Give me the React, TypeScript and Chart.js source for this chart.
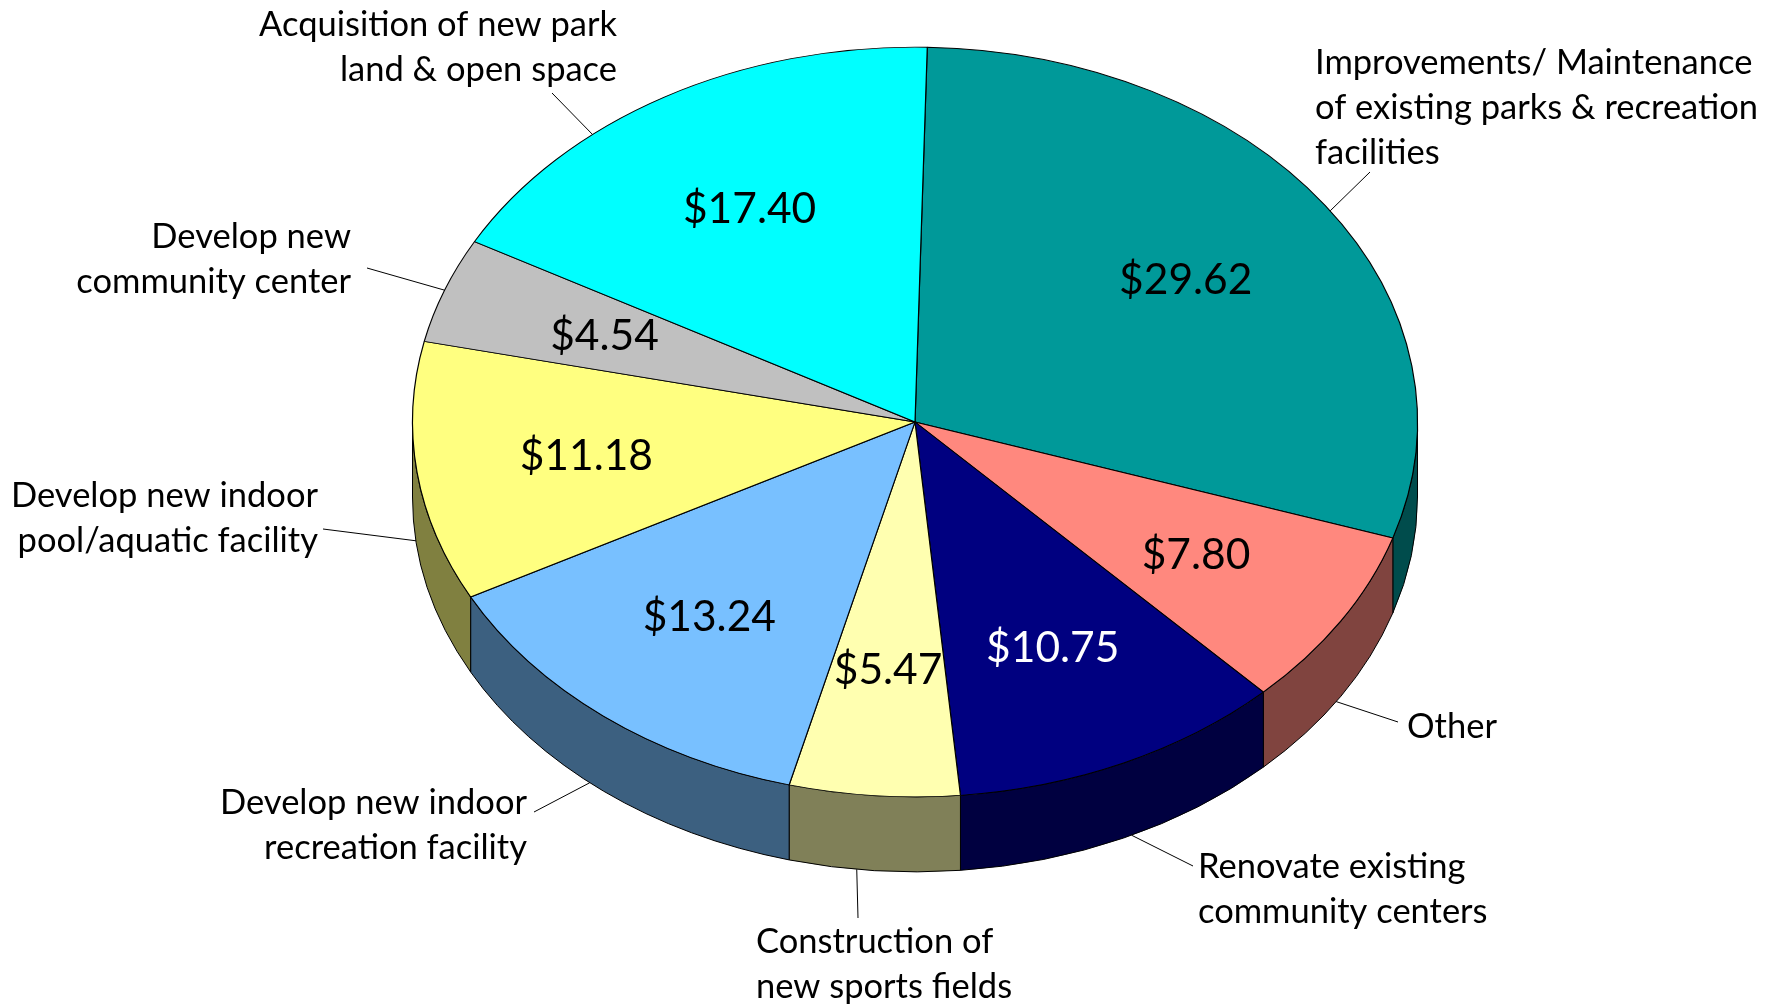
import React, { useEffect, useRef } from 'react';
import { Chart, registerables } from 'chart.js';

Chart.register(...registerables);

// ---------- data ----------
const CATEGORIES: string[][] = [
  ['Improvements/ Maintenance', 'of existing parks & recreation', 'facilities'],
  ['Other'],
  ['Renovate existing', 'community centers'],
  ['Construction of', 'new sports fields'],
  ['Develop new indoor', 'recreation facility'],
  ['Develop new indoor', 'pool/aquatic facility'],
  ['Develop new', 'community center'],
  ['Acquisition of new park', 'land & open space'],
];
const VALUES: number[] = [29.62, 7.8, 10.75, 5.47, 13.24, 11.18, 4.54, 17.4];

// ---------- styles ----------
const TOP_COLORS = ['#009999', '#FF887E', '#000080', '#FFFFB0', '#78C0FF', '#FFFF80', '#C0C0C0', '#00FFFF'];
const SIDE_COLORS = ['#004C4C', '#80443F', '#000040', '#808058', '#3C6080', '#808040', '#606060', '#008080'];
const VALUE_TEXT_COLORS = ['#000', '#000', '#fff', '#000', '#000', '#000', '#000', '#000'];

const W = 1783;
const H = 1006;
const RADIUS = 502.5; // horizontal radius in px
const TILT = 0.746; // vertical squash of the top face
const DEPTH = 75; // thickness of the pie
const ROTATION = 1.4; // degrees
const VALUE_LABEL_RADIUS = 0.66;
const VALUE_FONT_SIZE = 42.5;
const LABEL_FONT_SIZE = 34.5;
const LABEL_LINE_HEIGHT = 45;
const FONT_FAMILY = 'Lato, "Open Sans", sans-serif';

// leader-line far end, text anchor (x, first baseline) and alignment per category
const LABEL_LAYOUT: { end: [number, number]; x: number; y: number; align: CanvasTextAlign }[] = [
  { end: [1370, 172], x: 1315, y: 74, align: 'left' },
  { end: [1398, 722], x: 1407, y: 738, align: 'left' },
  { end: [1193, 866], x: 1198, y: 878, align: 'left' },
  { end: [858, 918], x: 756, y: 953, align: 'left' },
  { end: [534, 812], x: 527, y: 814, align: 'right' },
  { end: [323, 529], x: 318, y: 507, align: 'right' },
  { end: [367, 268], x: 351, y: 248, align: 'right' },
  { end: [552, 93], x: 617, y: 36, align: 'right' },
];
const ANCHOR_SHIFT_DEG = [1, 1, -1, 2, 2, 1, 0, -10];

const pie3d = {
  id: 'pie3d',
  beforeDatasetsDraw(chart: any) {
    const ctx: CanvasRenderingContext2D = chart.ctx;
    const arcs = chart.getDatasetMeta(0).data;
    if (!arcs.length) return;
    const cx = arcs[0].x;
    const cy = arcs[0].y;
    const rx = arcs[0].outerRadius;
    const ry = rx * TILT;
    // visible front side of the cylinder
    arcs.forEach((arc: any, i: number) => {
      const s = arc.startAngle;
      const e = arc.endAngle;
      const a0 = Math.max(s, 0);
      const a1 = Math.min(e, Math.PI);
      if (a1 <= a0) return;
      ctx.beginPath();
      ctx.ellipse(cx, cy, rx, ry, 0, a0, a1, false);
      ctx.lineTo(cx + rx * Math.cos(a1), cy + ry * Math.sin(a1) + DEPTH);
      ctx.ellipse(cx, cy + DEPTH, rx, ry, 0, a1, a0, true);
      ctx.closePath();
      ctx.fillStyle = SIDE_COLORS[i];
      ctx.fill();
      ctx.strokeStyle = '#000';
      ctx.lineWidth = 1;
      ctx.stroke();
    });
    // squash the top face
    ctx.save();
    ctx.translate(0, cy);
    ctx.scale(1, TILT);
    ctx.translate(0, -cy);
  },
  afterDatasetsDraw(chart: any) {
    const ctx: CanvasRenderingContext2D = chart.ctx;
    ctx.restore();
    const arcs = chart.getDatasetMeta(0).data;
    if (!arcs.length) return;
    const cx = arcs[0].x;
    const cy = arcs[0].y;
    const rx = arcs[0].outerRadius;
    const ry = rx * TILT;

    // value labels
    ctx.save();
    ctx.font = `${VALUE_FONT_SIZE}px ${FONT_FAMILY}`;
    ctx.textAlign = 'center';
    ctx.textBaseline = 'alphabetic';
    arcs.forEach((arc: any, i: number) => {
      const mid = (arc.startAngle + arc.endAngle) / 2;
      const x = cx + VALUE_LABEL_RADIUS * rx * Math.cos(mid);
      const y = cy + VALUE_LABEL_RADIUS * ry * Math.sin(mid);
      ctx.fillStyle = VALUE_TEXT_COLORS[i];
      ctx.fillText('$' + VALUES[i].toFixed(2), x, y + VALUE_FONT_SIZE * 0.36);
    });
    ctx.restore();

    // category labels with leader lines
    ctx.save();
    ctx.font = `${LABEL_FONT_SIZE}px ${FONT_FAMILY}`;
    ctx.textBaseline = 'alphabetic';
    ctx.fillStyle = '#000';
    ctx.strokeStyle = '#000';
    ctx.lineWidth = 1;
    arcs.forEach((arc: any, i: number) => {
      const lay = LABEL_LAYOUT[i];
      const a = (arc.startAngle + arc.endAngle) / 2 + (ANCHOR_SHIFT_DEG[i] * Math.PI) / 180;
      const ax = cx + rx * Math.cos(a);
      const ay = cy + ry * Math.sin(a) + (Math.sin(a) > 0 ? DEPTH : 0);
      ctx.beginPath();
      ctx.moveTo(ax, ay);
      ctx.lineTo(lay.end[0], lay.end[1]);
      ctx.stroke();
      ctx.textAlign = lay.align;
      CATEGORIES[i].forEach((line, j) => {
        ctx.fillText(line, lay.x, lay.y + j * LABEL_LINE_HEIGHT);
      });
    });
    ctx.restore();
  },
};

export default function App() {
  const ref = useRef<HTMLCanvasElement | null>(null);
  useEffect(() => {
    if (!ref.current) return;
    const chart = new Chart(ref.current, {
      type: 'pie',
      data: {
        labels: CATEGORIES.map((c) => c.join(' ')),
        datasets: [
          {
            data: VALUES,
            backgroundColor: TOP_COLORS,
            borderColor: '#000',
            borderWidth: 1.2,
            clip: false as any,
            rotation: ROTATION,
            radius: RADIUS,
          } as any,
        ],
      },
      options: {
        responsive: false,
        maintainAspectRatio: false,
        devicePixelRatio: 1,
        animation: false,
        rotation: ROTATION,
        radius: RADIUS,
        layout: { padding: { left: 47, right: 0, top: 0, bottom: 162 } },
        plugins: { legend: { display: false }, tooltip: { enabled: false } },
        events: [],
      } as any,
      plugins: [pie3d],
    });
    return () => chart.destroy();
  }, []);
  return (
    <div style={{ position: 'fixed', left: 0, top: 0, width: W, height: H, background: '#fff' }}>
      <canvas ref={ref} width={W} height={H} style={{ display: 'block', width: W, height: H }} />
    </div>
  );
}
